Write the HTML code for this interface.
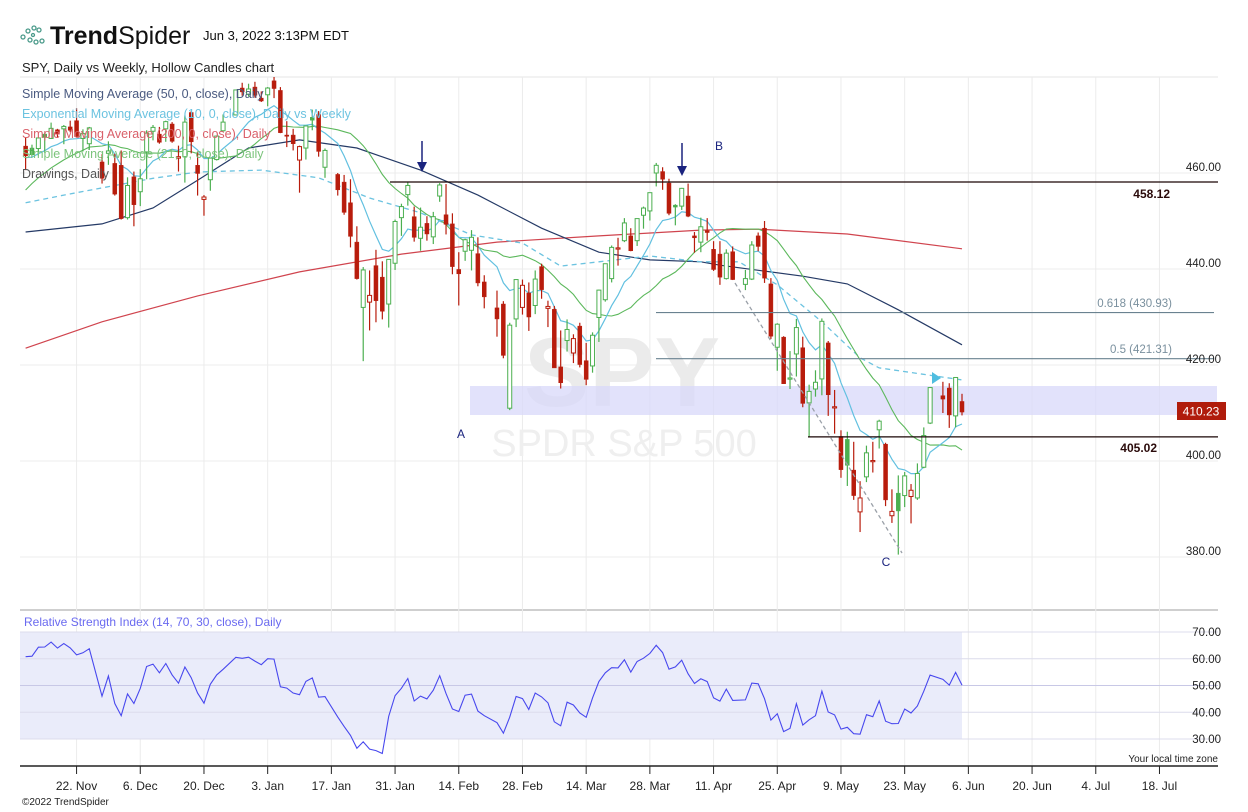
<!DOCTYPE html>
<html><head><meta charset="utf-8">
<style>
body{margin:0;background:#fff;}
svg{display:block;font-family:"Liberation Sans",sans-serif;}
</style></head>
<body>
<svg id="chart" width="1248" height="812" viewBox="0 0 1248 812" xmlns="http://www.w3.org/2000/svg">
  <g>
    <g fill="none" stroke="#4a9a8a" stroke-width="1.3">
      <circle cx="23" cy="37" r="2"/><circle cx="28" cy="31" r="2"/><circle cx="34" cy="28" r="2"/><circle cx="39" cy="30" r="2"/>
      <circle cx="30" cy="40" r="2"/><circle cx="36" cy="42" r="2"/><circle cx="42" cy="41" r="2"/><circle cx="33" cy="35" r="1.5"/>
    </g>
    <text x="50" y="44" font-size="25" fill="#111"><tspan font-weight="bold">Trend</tspan>Spider</text>
    <text x="203" y="40" font-size="13" fill="#111">Jun 3, 2022 3:13PM EDT</text>
    <text x="22" y="72" font-size="13" fill="#222">SPY, Daily vs Weekly, Hollow Candles chart</text>
  </g>
  <g id="grid"></g>
  <g id="drawBack"></g>
  <g id="plot"></g>
  <g id="drawFront"></g>
  <g id="legend">
    <text x="22" y="98" font-size="12.5" fill="#4a5a80">Simple Moving Average (50, 0, close), Daily</text>
    <text x="22" y="118" font-size="12.5" fill="#6cc3e0">Exponential Moving Average (10, 0, close), Daily vs Weekly</text>
    <text x="22" y="138" font-size="12.5" fill="#d9606a">Simple Moving Average (200, 0, close), Daily</text>
    <text x="22" y="158" font-size="12.5" fill="#7cc47c">Simple Moving Average (21, 0, close), Daily</text>
    <text x="22" y="178" font-size="12.5" fill="#555">Drawings, Daily</text>
  </g>
  <g id="rsi"></g>
  <g id="axes"></g>
  <text x="1218" y="762" font-size="10" fill="#222" text-anchor="end">Your local time zone</text>
  <text x="22" y="805" font-size="10" fill="#222">©2022 TrendSpider</text>
</svg>
<script>
// ---- data (weekday slots from Wed 2021-11-10; null = market holiday) ----
const priorCloses = [433.7,435.2,442.5,445.9,447.2,450.6,452.4,453.6,453.1,455.6,456.0,453.9,458.3,459.3,460.0,461.9,464.7,466.9,468.5,468.9,467.4];
const rsiSeedAvgGain = 2.0;
const rsiSeedAvgLoss = 1.0;
const opens = [465.6,465.2,465.1,468.1,467.2,469.0,469.2,469.6,470.9,467.2,466.1,null,462.3,464.1,462.0,461.6,450.7,459.2,456.1,464.4,468.7,468.1,469.2,470.2,463.1,463.4,472.6,461.6,454.5,458.6,462.8,468.8,null,472.1,477.7,476.4,477.9,475.6,476.3,479.2,477.2,467.9,467.9,462.7,465.2,471.6,472.2,461.2,null,459.7,458.1,453.8,445.6,432.0,433.1,440.7,438.3,432.7,441.2,450.7,455.5,450.9,446.4,449.5,446.7,455.2,451.3,449.4,439.9,443.7,443.9,443.2,437.3,null,431.9,432.7,411.0,429.6,432.0,435.0,432.4,440.5,431.8,431.6,419.6,425.1,422.5,428.1,420.9,419.8,429.9,433.6,438.0,444.3,445.9,446.9,445.9,451.2,452.1,460.0,460.3,457.9,453.3,453.1,455.2,446.9,445.6,448.0,444.1,443.1,438.0,443.6,null,436.8,437.9,446.9,448.5,436.9,423.7,425.8,417.2,422.3,423.6,412.1,415.0,417.1,424.6,411.1,405.1,404.5,398.1,389.4,396.7,400.0,406.5,403.5,388.6,393.3,392.8,392.6,392.3,398.7,407.9,null,413.6,415.2,409.4,412.4];
const highs = [467.4,465.9,467.4,468.4,470.5,469.2,470.0,470.9,473.5,469.1,469.6,null,463.9,466.6,464.0,464.7,459.1,460.3,460.8,468.9,470.0,469.6,470.9,470.6,465.7,472.0,472.9,464.5,455.4,463.2,467.8,472.2,null,477.3,478.8,478.6,479.0,477.0,477.9,480.0,477.9,470.8,469.2,465.7,469.9,473.2,472.9,465.1,null,460.0,459.6,458.7,448.9,440.4,439.7,444.0,441.6,442.0,450.3,453.6,458.1,453.0,452.8,451.0,451.9,457.9,457.7,451.6,443.5,446.3,448.1,446.6,438.7,null,435.5,433.3,428.8,437.8,437.8,437.2,439.7,441.1,433.4,432.3,427.2,429.5,426.4,428.8,424.6,426.8,435.7,441.1,444.9,446.5,450.6,448.5,450.5,453.0,455.9,462.1,461.2,458.8,453.5,456.9,457.8,447.7,450.7,450.6,445.8,445.8,444.1,444.7,null,439.8,445.8,447.6,450.0,438.1,428.7,426.0,422.9,429.6,425.9,415.9,418.9,429.7,425.0,414.8,406.4,406.1,404.0,395.8,403.2,404.0,408.6,403.8,394.1,397.0,397.7,395.2,399.5,407.0,415.4,null,416.5,416.2,417.4,414.0];
const lows = [460.6,463.6,463.6,464.2,467.1,467.4,466.0,468.5,467.4,464.5,464.8,null,457.8,461.7,455.3,450.3,450.3,448.9,453.1,458.7,466.8,466.1,466.5,466.3,460.3,458.0,464.1,455.3,451.1,456.3,462.6,468.6,null,472.0,476.1,475.9,475.7,474.8,473.9,475.6,468.3,465.4,464.7,455.9,462.8,468.9,463.4,459.0,null,455.3,451.3,444.5,437.8,420.8,427.2,428.9,429.5,427.8,439.8,446.9,453.2,445.7,443.8,445.9,445.2,454.0,447.2,438.9,432.4,441.7,439.7,436.4,431.8,null,425.9,421.4,410.6,427.9,430.5,427.1,430.6,433.8,427.9,419.4,415.1,422.8,420.4,419.5,415.8,418.4,424.8,433.2,437.2,440.7,445.6,443.7,444.8,448.4,450.1,457.2,456.5,451.2,449.1,452.3,450.8,443.4,443.5,445.9,439.6,436.7,437.8,437.7,null,435.6,437.7,443.7,437.1,425.4,418.8,416.1,415.0,417.6,411.2,405.0,413.4,413.7,409.4,405.7,396.5,394.8,391.9,385.2,395.6,397.6,402.6,390.6,387.1,380.5,390.4,387.0,391.9,398.5,407.7,null,410.0,406.9,407.0,409.5];
const closes = [463.6,463.8,467.3,467.4,469.3,468.1,469.7,468.9,467.6,468.2,469.4,null,458.9,464.6,455.6,450.5,457.4,453.4,458.8,468.3,469.5,466.4,470.7,466.6,463.4,470.6,466.5,459.9,455.0,463.1,467.7,470.6,null,477.3,476.9,477.5,476.2,475.0,477.7,477.6,468.4,467.9,466.1,465.5,469.8,471.0,464.5,464.7,null,456.5,451.8,446.8,438.0,439.8,434.5,433.4,431.2,442.0,449.9,453.0,457.4,446.6,448.7,447.3,450.9,457.5,449.3,440.5,439.0,446.1,446.6,437.1,434.2,null,429.6,422.0,428.3,437.8,436.6,430.0,437.9,435.7,432.2,419.4,416.3,427.4,425.5,420.1,417.0,426.2,435.6,441.1,444.5,444.4,449.6,443.8,450.5,452.7,455.9,461.6,458.7,451.6,452.9,456.8,451.0,446.5,448.8,447.6,439.9,438.3,443.3,437.8,null,438.0,445.0,444.7,438.1,426.0,428.5,416.1,417.3,427.8,412.0,414.5,416.4,429.1,413.8,411.3,398.2,399.1,392.8,392.3,401.7,400.1,408.3,391.9,389.5,389.6,396.9,393.9,397.4,405.3,415.3,null,412.9,409.6,417.4,410.2];
const sma50Idx = [0,12,20,27,35,43,52,62,71,81,90,98,106,109,122,129,137,147];
const sma50Val = [447.7,449.4,452.7,458.5,465.2,466.9,465.2,460.6,455.4,448.5,443.5,441.9,441.5,440.8,438.5,436.9,431.5,424.2];
const sma200Idx = [0,12,27,43,59,74,90,106,115,129,147];
const sma200Val = [423.5,429.0,434.4,439.4,443.1,445.6,446.9,448.1,448.3,447.3,444.2];
const wemaIdx = [0,6,12,20,27,37,46,54,62,70,78,84,90,98,106,112,118,125,131,134,147];
const wemaVal = [453.8,455.4,456.9,458.9,460.2,460.6,459.0,454.8,451.7,447.1,445.4,440.6,441.5,442.7,441.5,441.5,436.7,429.0,421.5,419.4,416.9];
const priceTicks = [460,440,420,400,380];
const rsiTicks = [70,60,50,40,30];
const dateLabels = ["22. Nov","6. Dec","20. Dec","3. Jan","17. Jan","31. Jan","14. Feb","28. Feb","14. Mar","28. Mar","11. Apr","25. Apr","9. May","23. May","6. Jun","20. Jun","4. Jul","18. Jul"];
const dateLabelIdx = [8,18,28,38,48,58,68,78,88,98,108,118,128,138,148,158,168,178];

// ---- scales ----
const NS='http://www.w3.org/2000/svg';
const X0=20, XR=1218;
function x(i){return 962-(147-i)*6.37;}
function y(p){return 173+(460-p)*4.8;}
function ry(v){return 632+(70-v)*2.675;}
function mk(tag,attrs,parent){const e=document.createElementNS(NS,tag);for(const k in attrs)e.setAttribute(k,attrs[k]);parent.appendChild(e);return e;}
const grid=document.getElementById('grid'),plot=document.getElementById('plot'),back=document.getElementById('drawBack'),front=document.getElementById('drawFront'),rsiG=document.getElementById('rsi'),axes=document.getElementById('axes');

let e=mk('line',{x1:X0,x2:XR,y1:77,y2:77,stroke:'#e4e4e4'},grid);


e=mk('line',{x1:X0,x2:XR,y1:610,y2:610,stroke:'#cfcfcf','stroke-width':2},grid);



dateLabelIdx.forEach((d,k)=>{
  const xx=x(d);
  let g=mk('line',{x1:xx,x2:xx,y1:77,y2:766,stroke:'#ececec'},grid);
  
  
  let t=mk('line',{x1:xx,x2:xx,y1:766,y2:774,stroke:'#222'},axes);
  
  
  let l=mk('text',{x:xx,y:790,'font-size':12,'text-anchor':'middle',fill:'#222'},axes);
  l.textContent=dateLabels[k];
  
  
});
e=mk('line',{x1:X0,x2:XR,y1:766,y2:766,stroke:'#222','stroke-width':1.5},axes);



priceTicks.forEach(p=>{
  let g=mk('line',{x1:X0,x2:XR,y1:y(p),y2:y(p),stroke:'#ececec'},grid);
  
  
  let l=mk('text',{x:1221,y:y(p)-2,'font-size':11.5,'text-anchor':'end',fill:'#222'},axes);
  l.textContent=p.toFixed(2);
  
  
});

e=mk('text',{x:622,y:406,'font-size':98,'font-weight':'bold','text-anchor':'middle',fill:'#ebebeb'},back);
e.textContent='SPY';


e=mk('text',{x:624,y:456,'font-size':38,'text-anchor':'middle',fill:'#efefef'},back);
e.textContent='SPDR S&P 500';


e=mk('rect',{x:470,y:386,width:747,height:29,fill:'#d8d8fa','fill-opacity':0.75},back);



function polyIdx(idx,vals,color,w,dash,name){
  const pts=idx.map((d,k)=>x(d).toFixed(1)+','+y(vals[k]).toFixed(1)).join(' ');
  const a={points:pts,fill:'none',stroke:color,'stroke-width':w};
  if(dash)a['stroke-dasharray']=dash;
  const l=mk('polyline',a,plot);
  
  
}
const all=priorCloses.concat(closes.filter(c=>c!==null));
const valid=[];closes.forEach((c,i)=>{if(c!==null)valid.push(i);});
const off=priorCloses.length;
let ema=all.slice(0,10).reduce((a,b)=>a+b,0)/10;const emaArr=[];
for(let k=10;k<all.length;k++){ema=all[k]*2/11+ema*9/11;emaArr[k]=ema;}
const smaArr=[];for(let k=20;k<all.length;k++){let s=0;for(let j=k-20;j<=k;j++)s+=all[j];smaArr[k]=s/21;}
polyIdx(sma200Idx,sma200Val,'#d0444e',1.2,null,'sma200-line');
polyIdx(sma50Idx,sma50Val,'#253a66',1.2,null,'sma50-line');
polyIdx(wemaIdx,wemaVal,'#6cc3e0',1.3,'5,4','weekly-ema10-line');
polyIdx(valid,valid.map((d,k)=>smaArr[k+off]),'#5cb85c',1.1,null,'sma21-line');
polyIdx(valid,valid.map((d,k)=>emaArr[k+off]),'#62c0e0',1.2,null,'ema10-line');
e=mk('polygon',{points:'932,372 932,384 941,378',fill:'#4fbde0'},plot);



let prev=priorCloses[priorCloses.length-1];
closes.forEach((c,i)=>{
  if(c===null)return;
  const o=opens[i],h=highs[i],l=lows[i];
  const col=c>=prev?'#4caf50':'#b81c0c';
  const xx=x(i);
  const g=mk('g',{},plot);
  
  
  const top=Math.min(y(o),y(c)),bot=Math.max(y(o),y(c));
  mk('line',{x1:xx,x2:xx,y1:y(h),y2:top,stroke:col,'stroke-width':1.2},g);
  mk('line',{x1:xx,x2:xx,y1:bot,y2:y(l),stroke:col,'stroke-width':1.2},g);
  const hollow=c>o;
  mk('rect',{x:xx-2,y:top,width:4,height:Math.max(bot-top,1.2),fill:hollow?'#fff':col,stroke:col,'stroke-width':hollow?1:0.5},g);
  prev=c;
});

function hl(x1,x2,p,color,w,name){const l=mk('line',{x1:x1,x2:x2,y1:y(p),y2:y(p),stroke:color,'stroke-width':w},front);}
hl(390,1218,458.12,'#1a0505',1.3,'resistance-line-458');
hl(808,1218,405.02,'#1a0505',1.3,'support-line-405');
hl(656,1214,430.93,'#6a8290',1.1,'fib-0618-line');
hl(656,1214,421.31,'#6a8290',1.1,'fib-05-line');
function tx(xx,yy,s,fs,col,anchor,bold,name){const t=mk('text',{x:xx,y:yy,'font-size':fs,fill:col,'text-anchor':anchor||'start'},front);if(bold)t.setAttribute('font-weight','bold');t.textContent=s;}
tx(1170,198,'458.12',12,'#2a0a0a','end',true,'label-458');
tx(1157,452,'405.02',12,'#2a0a0a','end',true,'label-405');
tx(1172,307,'0.618 (430.93)',11.5,'#7a909e','end',false,'fib-0618-label');
tx(1172,353,'0.5 (421.31)',11.5,'#7a909e','end',false,'fib-05-label');
e=mk('line',{x1:735,y1:283,x2:902,y2:553,stroke:'#9aa0a8','stroke-width':1.3,'stroke-dasharray':'4,3'},front);


[[422,141,172],[682,143,176]].forEach(a=>{
  const g=mk('g',{},front);
  
  
  mk('line',{x1:a[0],x2:a[0],y1:a[1],y2:a[2]-8,stroke:'#1a237e','stroke-width':1.5},g);
  mk('polygon',{points:(a[0]-5)+','+(a[2]-10)+' '+(a[0]+5)+','+(a[2]-10)+' '+a[0]+','+a[2],fill:'#1a237e'},g);
});
tx(461,438,'A',12,'#1a237e','middle',false,'wave-label-a');
tx(719,150,'B',12,'#1a237e','middle',false,'wave-label-b');
tx(886,566,'C',12,'#1a237e','middle',false,'wave-label-c');
e=mk('rect',{x:1177,y:402,width:49,height:18,fill:'#b01c0c'},front);


tx(1201,415.5,'410.23',12,'#fff','middle',false,'last-price-label');

// RSI (Wilder 14) from closes, seeded at last prior close
const rsiArr=[];let ag=rsiSeedAvgGain,al=rsiSeedAvgLoss;
for(let k=off;k<all.length;k++){const d=all[k]-all[k-1];ag=(ag*13+Math.max(d,0))/14;al=(al*13+Math.max(-d,0))/14;rsiArr[k]=100-100/(1+ag/al);}
e=mk('rect',{x:X0,y:ry(70),width:962-X0,height:ry(30)-ry(70),fill:'#eaecfa'},rsiG);


rsiTicks.forEach(v=>{
  let g=mk('line',{x1:X0,x2:XR,y1:ry(v),y2:ry(v),stroke:v===50?'#c8c8e6':'#dcdcec'},rsiG);
  
  
  let l=mk('text',{x:1221,y:ry(v)+4,'font-size':11.5,'text-anchor':'end',fill:'#222'},rsiG);
  l.textContent=v.toFixed(2);
  
  
});
e=mk('polyline',{points:valid.map((d,k)=>x(d).toFixed(1)+','+ry(rsiArr[k+off]).toFixed(1)).join(' '),fill:'none',stroke:'#4848ee','stroke-width':1.1},rsiG);


e=mk('text',{x:24,y:626,'font-size':12,fill:'#6a6af0'},rsiG);
e.textContent='Relative Strength Index (14, 70, 30, close), Daily';


</script>
</body></html>
